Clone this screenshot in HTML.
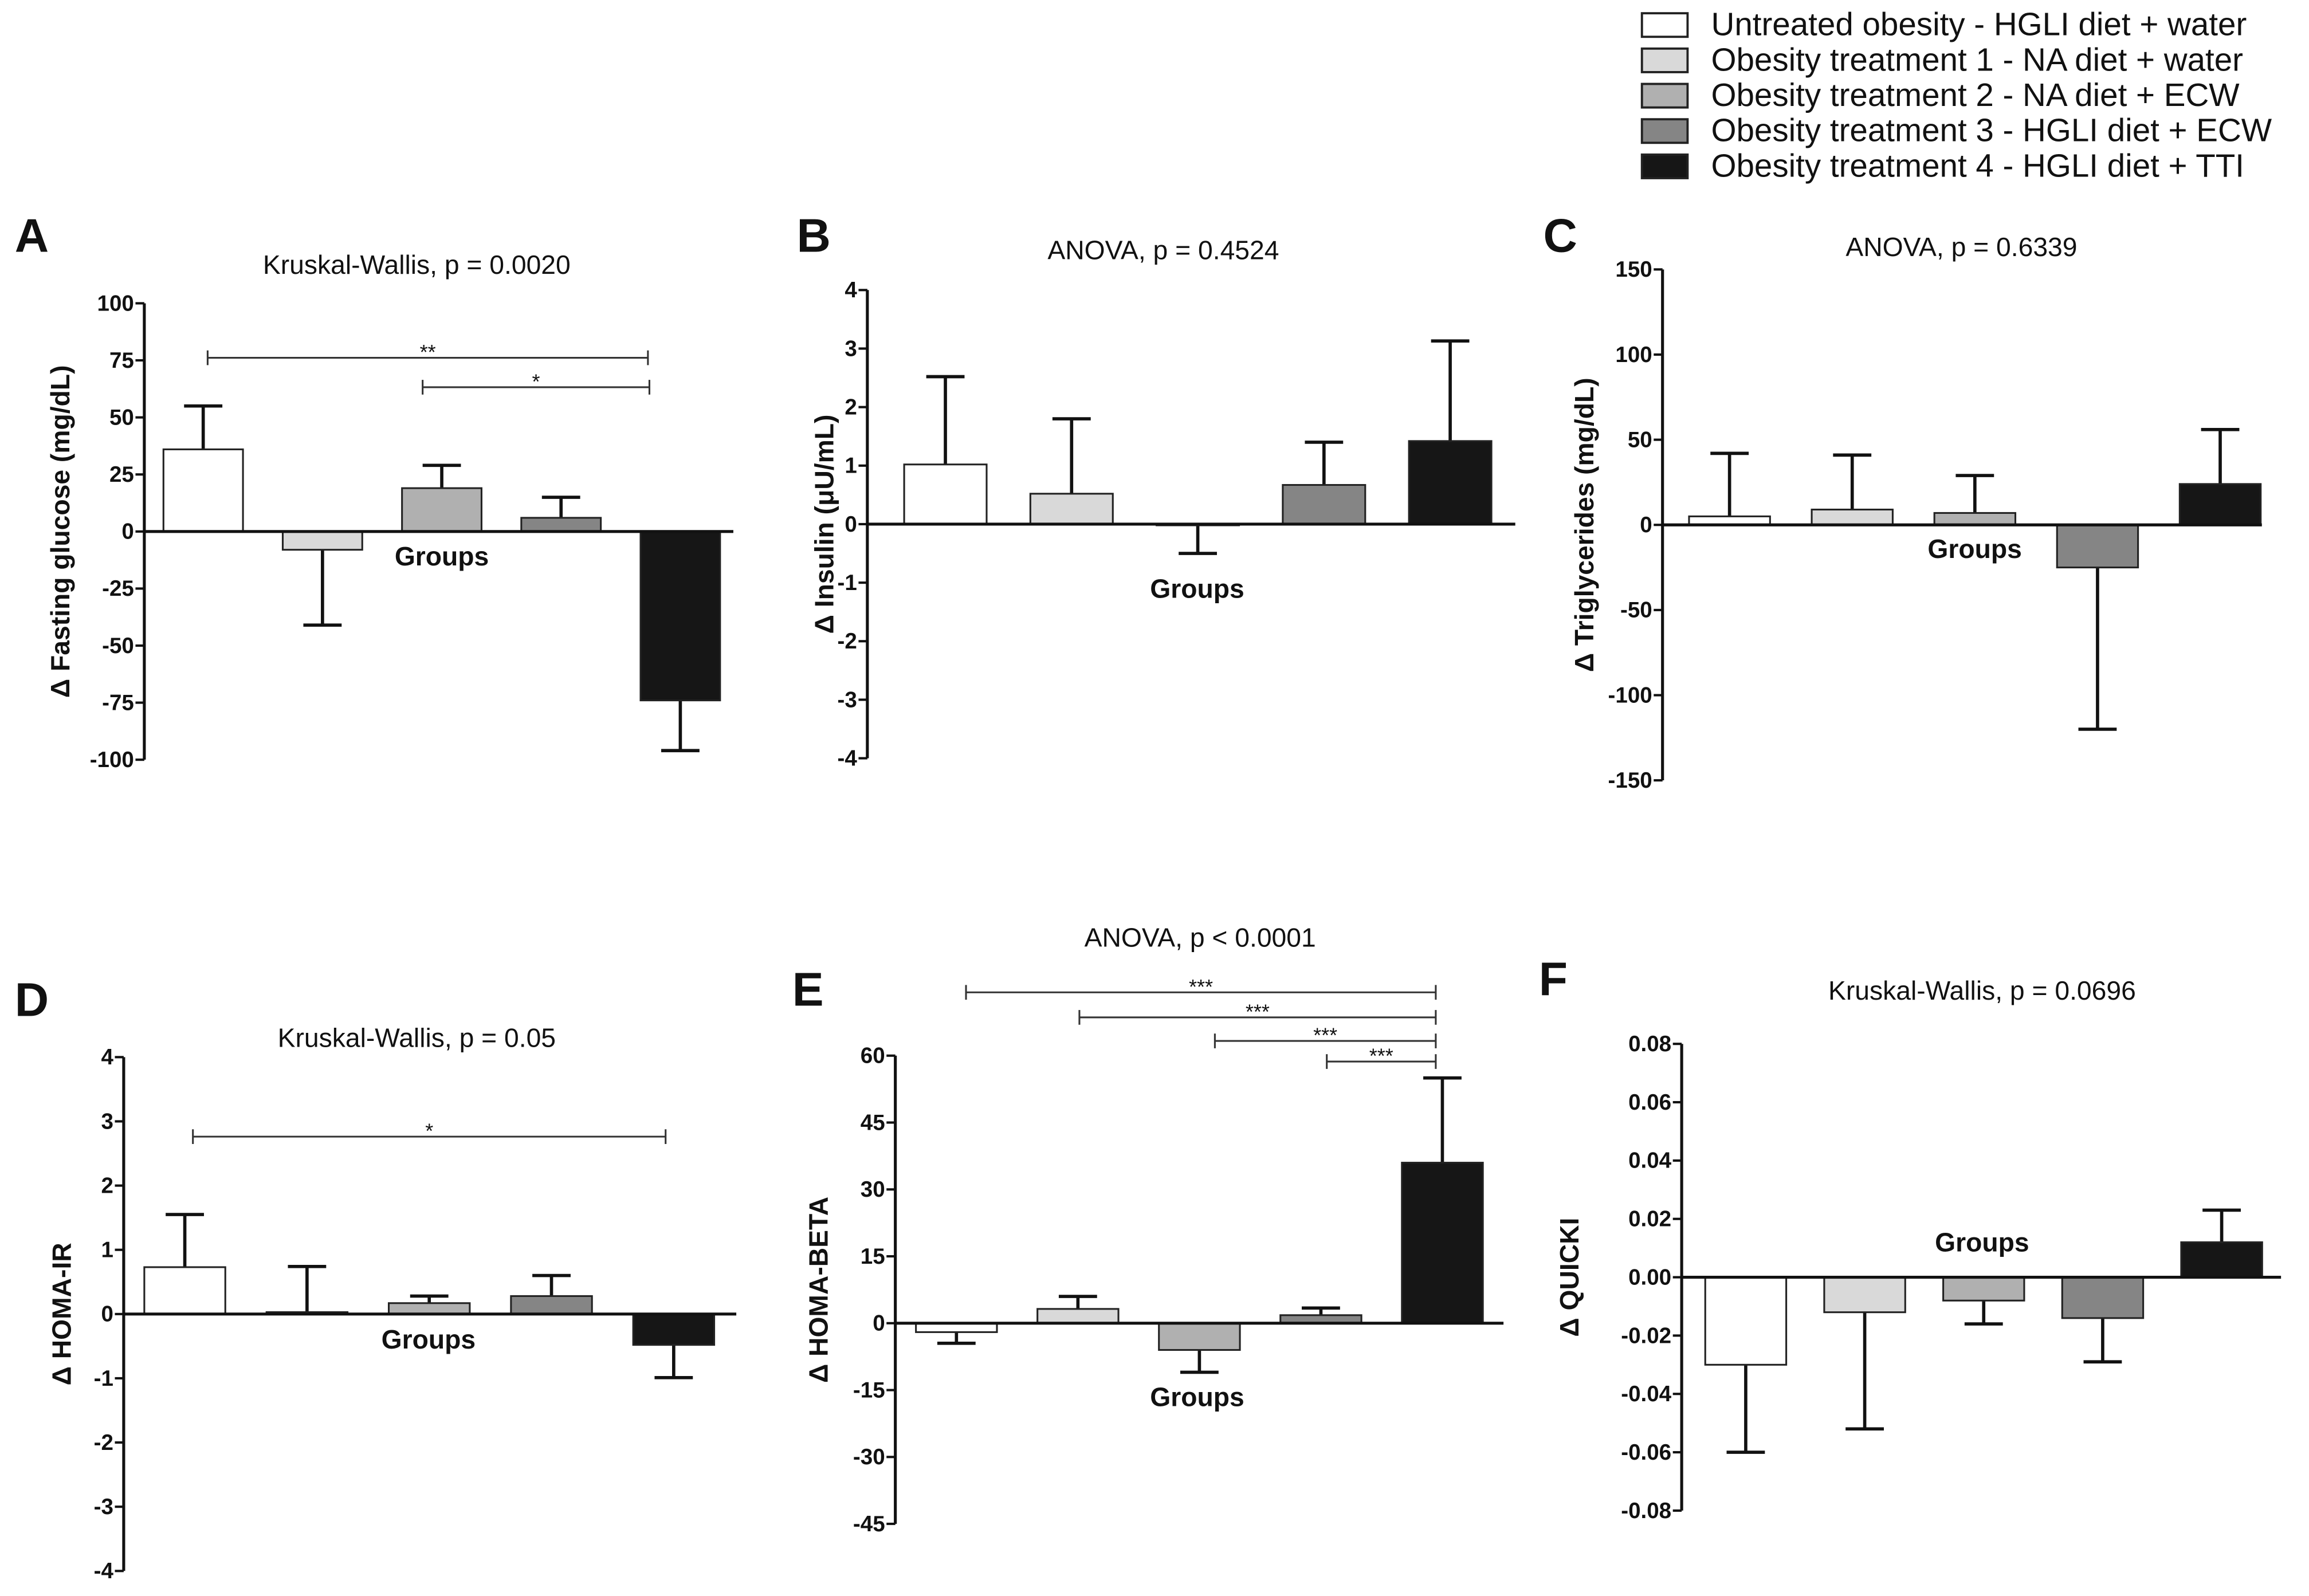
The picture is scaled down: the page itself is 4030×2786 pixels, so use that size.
<!DOCTYPE html>
<html><head><meta charset="utf-8"><style>
html,body{margin:0;padding:0;background:#fff;}
svg{display:block;}
text{font-family:"Liberation Sans",Arial,sans-serif;fill:#111;}
.tick{font-size:15px;font-weight:bold;}
.title{font-size:18px;}
.grp{font-size:18px;font-weight:bold;}
.ylab{font-size:18px;font-weight:bold;}
.plab{font-size:32px;font-weight:bold;}
.leg{font-size:22px;}
.star{font-size:14px;}
</style></head><body>
<svg id="fig" width="4030" height="2786" viewBox="0 0 1568 1084" preserveAspectRatio="none" xmlns="http://www.w3.org/2000/svg">
<g id="legend"></g>
</svg>
<script>
const groupNames=["Untreated obesity - HGLI diet + water","Obesity treatment 1 - NA diet + water","Obesity treatment 2 - NA diet + ECW","Obesity treatment 3 - HGLI diet + ECW","Obesity treatment 4 - HGLI diet + TTI"];
const colors=["#ffffff","#d9d9d9","#b0b0b0","#858585","#161616"];

const valuesA=[36,-8,19,6,-74];
const errorsA=[55,-41,29,15,-96];
const ticksA=[100,75,50,25,0,-25,-50,-75,-100];
const valuesB=[1.02,0.52,-0.02,0.67,1.42];
const errorsB=[2.52,1.8,-0.5,1.4,3.13];
const ticksB=[4,3,2,1,0,-1,-2,-3,-4];
const valuesC=[5,9,7,-25,24];
const errorsC=[42,41,29,-120,56];
const ticksC=[150,100,50,0,-50,-100,-150];
const valuesD=[0.73,0.03,0.17,0.28,-0.48];
const errorsD=[1.55,0.74,0.28,0.6,-0.99];
const ticksD=[4,3,2,1,0,-1,-2,-3,-4];
const valuesE=[-2,3.2,-6,1.8,36];
const errorsE=[-4.5,6,-11,3.4,55];
const ticksE=[60,45,30,15,0,-15,-30,-45];
const valuesF=[-0.030,-0.012,-0.008,-0.014,0.012];
const errorsF=[-0.060,-0.052,-0.016,-0.029,0.023];
const ticksF=["0.08","0.06","0.04","0.02","0.00","-0.02","-0.04","-0.06","-0.08"];

const NS="http://www.w3.org/2000/svg";
const svg=document.getElementById('fig');
function mk(tag,attrs,parent,txt){const e=document.createElementNS(NS,tag);for(const k in attrs)e.setAttribute(k,attrs[k]);if(txt!==undefined)e.textContent=txt;(parent||svg).appendChild(e);return e;}

const lg=document.getElementById('legend');
groupNames.forEach((n,i)=>{
  const y=9+i*24;
  const r=mk('rect',{x:1115,y:y,width:31,height:16,fill:colors[i],stroke:'#222','stroke-width':1.5},lg);
  
  
  const t=mk('text',{x:1162,y:y+15,class:'leg'},lg,n);
  
  
});

function panel(o){
  const g=mk('g',{});
  
  
  const tk=o.ticks.map(Number);
  const vmax=Math.max(...tk),vmin=Math.min(...tk);
  const y=v=>o.yTop+(vmax-v)/(vmax-vmin)*(o.yBot-o.yTop);
  const y0=y(0);
  let t=mk('text',{x:o.lx,y:o.ly,class:'plab'},g,o.id);
  
  
  t=mk('text',{x:o.tx,y:o.ty,class:'title','text-anchor':'middle'},g,o.title);
  
  
  let a=mk('line',{x1:o.ax,x2:o.ax,y1:o.yTop,y2:o.yBot,stroke:'#111','stroke-width':2},g);
  
  
  o.ticks.forEach((lab,i)=>{
    const yy=y(Number(lab));
    mk('line',{x1:o.ax-6,x2:o.ax,y1:yy,y2:yy,stroke:'#111','stroke-width':1.6},g);
    const tt=mk('text',{x:o.ax-7,y:yy+5,class:'tick','text-anchor':'end'},g,String(lab));
    
    
  });
  t=mk('text',{x:o.ylx,y:(o.yTop+o.yBot)/2,class:'ylab','text-anchor':'middle',transform:`rotate(-90 ${o.ylx} ${(o.yTop+o.yBot)/2})`},g,o.ylab);
  
  
  o.values.forEach((v,i)=>{
    const x=o.bx+i*o.step, cx=x+o.bw/2;
    const top=Math.min(y(v),y0),h=Math.abs(y(v)-y0);
    const e=o.errors[i];
    const el=mk('line',{x1:cx,x2:cx,y1:y(v),y2:y(e),stroke:'#111','stroke-width':2.2},g);
    
    
    mk('line',{x1:cx-13,x2:cx+13,y1:y(e),y2:y(e),stroke:'#111','stroke-width':2.2},g);
    const r=mk('rect',{x:x,y:top,width:o.bw,height:Math.max(h,0.5),fill:colors[i],stroke:'#222','stroke-width':1.2},g);
    
    
  });
  a=mk('line',{x1:o.ax,x2:o.zx,y1:y0,y2:y0,stroke:'#111','stroke-width':2},g);
  
  
  t=mk('text',{x:o.gx,y:o.gy,class:'grp','text-anchor':'middle'},g,'Groups');
  
  
  (o.sig||[]).forEach(s=>{
    const b=mk('line',{x1:s[0],x2:s[1],y1:s[2],y2:s[2],stroke:'#333','stroke-width':1.2},g);
    
    
    mk('line',{x1:s[0],x2:s[0],y1:s[2]-5,y2:s[2]+5,stroke:'#333','stroke-width':1.2},g);
    mk('line',{x1:s[1],x2:s[1],y1:s[2]-5,y2:s[2]+5,stroke:'#333','stroke-width':1.2},g);
    const st=mk('text',{x:(s[0]+s[1])/2,y:s[2]+1,class:'star','text-anchor':'middle'},g,s[3]);
    
    
  });
}

panel({id:'A',title:'Kruskal-Wallis, p = 0.0020',tx:283,ty:186,lx:10,ly:171,ax:98,yTop:206,yBot:516,zx:498,bx:111,bw:54,step:81,values:valuesA,errors:errorsA,ticks:ticksA,ylab:'\u0394 Fasting glucose (mg/dL)',ylx:47,gx:300,gy:384,sig:[[141,440,243,'**'],[287,441,263,'*']]});
panel({id:'B',title:'ANOVA, p = 0.4524',tx:790,ty:176,lx:541,ly:171,ax:589,yTop:197,yBot:515,zx:1029,bx:614,bw:56,step:85.7,values:valuesB,errors:errorsB,ticks:ticksB,ylab:'\u0394 Insulin (\u03bcU/mL)',ylx:566,gx:813,gy:406});
panel({id:'C',title:'ANOVA, p = 0.6339',tx:1332,ty:174,lx:1048,ly:171,ax:1129,yTop:183,yBot:530,zx:1536,bx:1147,bw:55,step:83.3,values:valuesC,errors:errorsC,ticks:ticksC,ylab:'\u0394 Triglycerides (mg/dL)',ylx:1082,gx:1341,gy:379});
panel({id:'D',title:'Kruskal-Wallis, p = 0.05',tx:283,ty:711,lx:10,ly:690,ax:84,yTop:718,yBot:1067,zx:500,bx:98,bw:55,step:83,values:valuesD,errors:errorsD,ticks:ticksD,ylab:'\u0394 HOMA-IR',ylx:48,gx:291,gy:916,sig:[[131,452,772,'*']]});
panel({id:'E',title:'ANOVA, p < 0.0001',tx:815,ty:643,lx:538,ly:683,ax:608,yTop:717,yBot:1035,zx:1021,bx:622,bw:55,step:82.5,values:valuesE,errors:errorsE,ticks:ticksE,ylab:'\u0394 HOMA-BETA',ylx:562,gx:813,gy:955,sig:[[656,975,674,'***'],[733,975,691,'***'],[825,975,707,'***'],[901,975,721,'***']]});
panel({id:'F',title:'Kruskal-Wallis, p = 0.0696',tx:1346,ty:679,lx:1045,ly:676,ax:1142,yTop:709,yBot:1026,zx:1549,bx:1158,bw:55,step:80.8,values:valuesF,errors:errorsF,ticks:ticksF,ylab:'\u0394 QUICKI',ylx:1072,gx:1346,gy:850});
</script>
</body></html>
